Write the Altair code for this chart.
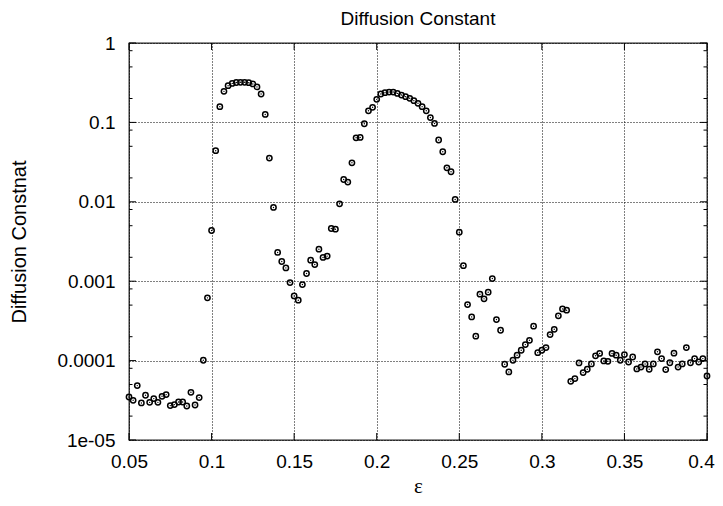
import altair as alt
import pandas as pd

# epsilon values (x)
eps = [
    0.05, 0.0525, 0.055, 0.0575, 0.06, 0.0625, 0.065, 0.0675, 0.07, 0.0725,
    0.075, 0.0775, 0.08, 0.0825, 0.085, 0.0875, 0.09, 0.0925, 0.095, 0.0975,
    0.1, 0.1025, 0.105, 0.1075, 0.11, 0.1125, 0.115, 0.1175, 0.12, 0.1225,
    0.125, 0.1275, 0.13, 0.1325, 0.135, 0.1375, 0.14, 0.1425, 0.145, 0.1475,
    0.15, 0.1525, 0.155, 0.1575, 0.16, 0.1625, 0.165, 0.1675, 0.17, 0.1725,
    0.175, 0.1775, 0.18, 0.1825, 0.185, 0.1875, 0.19, 0.1925, 0.195, 0.1975,
    0.2, 0.2025, 0.205, 0.2075, 0.21, 0.2125, 0.215, 0.2175, 0.22, 0.2225,
    0.225, 0.2275, 0.23, 0.2325, 0.235, 0.2375, 0.24, 0.2425, 0.245, 0.2475,
    0.25, 0.2525, 0.255, 0.2575, 0.26, 0.2625, 0.265, 0.2675, 0.27, 0.2725,
    0.275, 0.2775, 0.28, 0.2825, 0.285, 0.2875, 0.29, 0.2925, 0.295, 0.2975,
    0.3, 0.3025, 0.305, 0.3075, 0.31, 0.3125, 0.315, 0.3175, 0.32, 0.3225,
    0.325, 0.3275, 0.33, 0.3325, 0.335, 0.3375, 0.34, 0.3425, 0.345, 0.3475,
    0.35, 0.3525, 0.355, 0.3575, 0.36, 0.3625, 0.365, 0.3675, 0.37, 0.3725,
    0.375, 0.3775, 0.38, 0.3825, 0.385, 0.3875, 0.39, 0.3925, 0.395, 0.3975,
    0.4,
]

# diffusion constant values (y)
diff = [
    3.48e-5, 3.16e-5, 4.84e-5, 2.93e-5, 3.66e-5, 2.98e-5, 3.32e-5, 2.98e-5, 3.55e-5, 3.73e-5,
    2.71e-5, 2.79e-5, 3.01e-5, 3.01e-5, 2.68e-5, 3.99e-5, 2.76e-5, 3.42e-5, 1.01e-4, 6.17e-4,
    4.35e-3, 0.044, 0.158, 0.246, 0.29, 0.31, 0.318, 0.32, 0.32, 0.316,
    0.305, 0.28, 0.228, 0.126, 0.0355, 8.49e-3, 2.30e-3, 1.77e-3, 1.47e-3, 9.62e-4,
    6.53e-4, 5.76e-4, 9.08e-4, 1.25e-3, 1.84e-3, 1.62e-3, 2.53e-3, 1.99e-3, 2.07e-3, 4.61e-3,
    4.52e-3, 9.44e-3, 0.0191, 0.0177, 0.031, 0.064, 0.0647, 0.0962, 0.140, 0.155,
    0.195, 0.228, 0.237, 0.241, 0.241, 0.232, 0.221, 0.211, 0.201, 0.188,
    0.174, 0.158, 0.14, 0.115, 0.097, 0.06, 0.0427, 0.0268, 0.0239, 0.0107,
    4.15e-3, 1.57e-3, 5.08e-4, 3.55e-4, 2.03e-4, 6.86e-4, 5.99e-4, 7.27e-4, 1.08e-3, 3.29e-4,
    2.41e-4, 9.0e-5, 7.2e-5, 1.01e-4, 1.17e-4, 1.35e-4, 1.59e-4, 1.80e-4, 2.71e-4, 1.26e-4,
    1.35e-4, 1.46e-4, 2.13e-4, 2.48e-4, 3.66e-4, 4.48e-4, 4.31e-4, 5.49e-5, 5.93e-5, 9.35e-5,
    7.06e-5, 7.78e-5, 9.08e-5, 1.15e-4, 1.23e-4, 9.9e-5, 9.8e-5, 1.23e-4, 1.17e-4, 1.01e-4,
    1.19e-4, 9.6e-5, 1.11e-4, 7.85e-5, 8.3e-5, 9.08e-5, 7.78e-5, 9.08e-5, 1.29e-4, 1.06e-4,
    7.7e-5, 9.4e-5, 1.24e-4, 8.3e-5, 9.08e-5, 1.46e-4, 9.4e-5, 1.06e-4, 9.6e-5, 1.06e-4,
    6.4e-5,
]

x_ticks = [0.05, 0.1, 0.15, 0.2, 0.25, 0.3, 0.35, 0.4]
y_ticks = [1e-5, 1e-4, 1e-3, 1e-2, 0.1, 1.0]
y_tick_labels = ["1e-05", "0.0001", "0.001", "0.01", "0.1", "1"]
y_minor = [2e-5, 5e-5, 8e-5, 2e-4, 5e-4, 8e-4, 2e-3, 5e-3, 8e-3,
           2e-2, 5e-2, 8e-2, 0.2, 0.5, 0.8]

W, H = 578, 397
MAJ, MIN = 7, 3.5

df = pd.DataFrame({"eps": eps, "D": diff})
df_xt = pd.DataFrame({"v": x_ticks})
df_yt = pd.DataFrame({"v": y_ticks})
df_ym = pd.DataFrame({"v": y_minor})

xscale = alt.Scale(domain=[0.05, 0.4], nice=False, zero=False, padding=0)
yscale = alt.Scale(type="log", domain=[1e-5, 1], nice=False, padding=0)

# label expression from tick label list
expr = "'" + y_tick_labels[-1] + "'"
for v, lab in reversed(list(zip(y_ticks[:-1], y_tick_labels[:-1]))):
    expr = f"datum.value < {v * 3:g} ? '{lab}' : ({expr})"

base = alt.Chart(df)

circles = base.mark_point(
    shape="circle", filled=False, size=28, strokeWidth=1.5, color="#000", opacity=1
).encode(
    x=alt.X("eps:Q", scale=xscale,
            axis=alt.Axis(values=x_ticks, format="~g", title="ε", grid=True,
                          labelFlush=False, labelPadding=12, titlePadding=4,
                          labelOffset={"condition": {"test": "datum.value > 0.39", "value": -6},
                                       "value": 0},
                          titleFont="Liberation Serif", titleFontSize=21)),
    y=alt.Y("D:Q", scale=yscale,
            axis=alt.Axis(values=y_ticks, labelExpr=expr, title="Diffusion Constnat",
                          grid=True, labelFlush=False, labelPadding=14, titlePadding=27)),
)

dots = base.mark_point(
    shape="circle", filled=True, size=2, color="#000", opacity=1
).encode(x=alt.X("eps:Q", scale=xscale), y=alt.Y("D:Q", scale=yscale))

tick_style = dict(color="#000", thickness=1, opacity=1)

left_major = alt.Chart(df_yt).mark_tick(orient="horizontal", size=MAJ, **tick_style).encode(
    y=alt.Y("v:Q", scale=yscale), x=alt.value(MAJ / 2))
right_major = alt.Chart(df_yt).mark_tick(orient="horizontal", size=MAJ, **tick_style).encode(
    y=alt.Y("v:Q", scale=yscale), x=alt.value(W - MAJ / 2))
left_minor = alt.Chart(df_ym).mark_tick(orient="horizontal", size=MIN, **tick_style).encode(
    y=alt.Y("v:Q", scale=yscale), x=alt.value(MIN / 2))
right_minor = alt.Chart(df_ym).mark_tick(orient="horizontal", size=MIN, **tick_style).encode(
    y=alt.Y("v:Q", scale=yscale), x=alt.value(W - MIN / 2))
bottom_major = alt.Chart(df_xt).mark_tick(orient="vertical", size=MAJ, **tick_style).encode(
    x=alt.X("v:Q", scale=xscale), y=alt.value(H - MAJ / 2))
top_major = alt.Chart(df_xt).mark_tick(orient="vertical", size=MAJ, **tick_style).encode(
    x=alt.X("v:Q", scale=xscale), y=alt.value(MAJ / 2))

chart = alt.layer(
    circles, dots,
    left_major, right_major, left_minor, right_minor, bottom_major, top_major,
).properties(
    width=W, height=H,
    title=alt.Title("Diffusion Constant", font="Liberation Sans", fontSize=19,
                    fontWeight="normal", color="#000", offset=5, anchor="middle"),
    autosize=alt.AutoSizeParams(type="none"),
    padding={"left": 121, "top": 35, "right": 8, "bottom": 58},
).configure_view(
    stroke="#222", strokeWidth=1.3
).configure_axis(
    labelFont="Liberation Sans", labelFontSize=19, labelColor="#000",
    titleFont="Liberation Sans", titleFontSize=20, titleFontWeight="normal",
    titleColor="#000", gridColor="#000", gridDash=[1, 2], gridWidth=1,
    gridOpacity=1, domain=False, ticks=False,
)

chart.save("out.html", embed_options={"renderer": "svg", "actions": False})
